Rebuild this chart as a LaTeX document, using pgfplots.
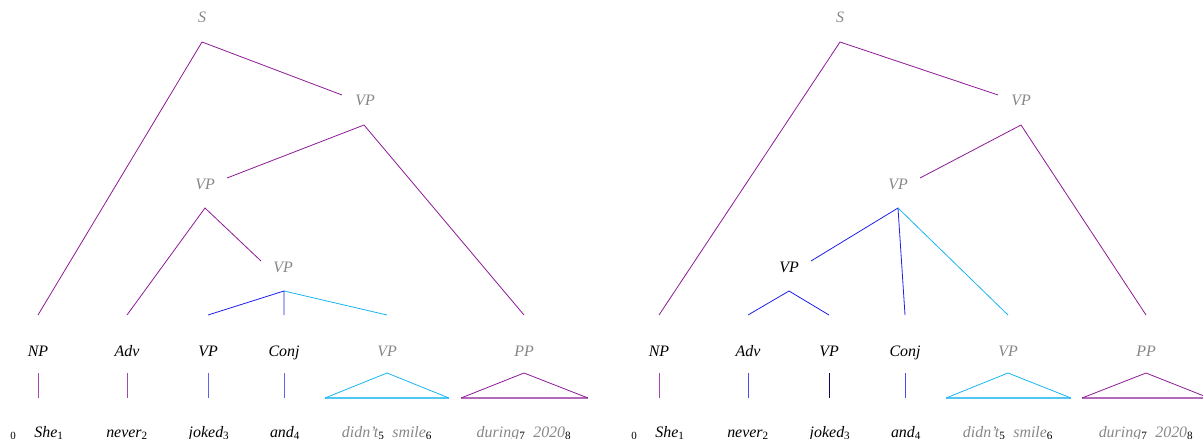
\documentclass[border=0pt]{standalone}
\usepackage{fontspec}
\setmainfont{Liberation Serif}
\usepackage{pgfplots}
\pgfplotsset{compat=1.18}

\definecolor{tpurple}{RGB}{140,25,150}
\definecolor{tblue}{RGB}{30,30,235}
\definecolor{tlight}{RGB}{25,180,240}
\definecolor{tgray}{RGB}{135,135,135}

\newcommand{\sub}[1]{\textsubscript{\upshape\color{black}#1}}

\begin{document}
\begin{tikzpicture}
\begin{axis}[
  anchor=south west, at={(0,0)},
  scale only axis, width=1203bp, height=439bp,
  xmin=0, xmax=1203, ymin=0, ymax=439,
  y dir=reverse, hide axis, clip=false,
  every axis plot/.append style={line width=0.8pt, mark=none},
  nodes={font=\fontsize{16}{19}\selectfont\itshape, inner sep=0pt},
  ]
  % ---------- left tree ----------
  \addplot[tpurple] coordinates {(38,315) (202,42) (342,95)};
  \addplot[tpurple] coordinates {(227,178) (364,125) (524,315)};
  \addplot[tpurple] coordinates {(127,315) (205,208) (261,261)};
  \addplot[tblue] coordinates {(208,315) (284,291) (284,315)};
  \addplot[tlight] coordinates {(284,291) (387,315)};
  % leaves
  \addplot[tpurple!80] coordinates {(38,373) (38,398)};
  \addplot[tpurple!80] coordinates {(127,373) (127,398)};
  \addplot[tblue!70] coordinates {(208,373) (208,398)};
  \addplot[tblue!70] coordinates {(284,373) (284,398)};
  \addplot[tlight!75, line width=1.8pt] coordinates {(325,398) (449,398)};
  \addplot[tlight] coordinates {(325,398) (387,373) (449,398)};
  \addplot[tpurple!65, line width=1.8pt] coordinates {(461,398) (588,398)};
  \addplot[tpurple] coordinates {(461,398) (524,373) (588,398)};

  \node[anchor=base, text=tgray] at (axis cs:202,23) {S};
  \node[anchor=base, text=tgray] at (axis cs:365,106) {VP};
  \node[anchor=base, text=tgray] at (axis cs:205,189) {VP};
  \node[anchor=base, text=tgray] at (axis cs:283,272) {VP};
  \node[anchor=base] at (axis cs:38,356) {NP};
  \node[anchor=base] at (axis cs:127,356) {Adv};
  \node[anchor=base] at (axis cs:208,356) {VP};
  \node[anchor=base] at (axis cs:284,356) {Conj};
  \node[anchor=base, text=tgray] at (axis cs:387,356) {VP};
  \node[anchor=base, text=tgray] at (axis cs:524,356) {PP};

  \node[anchor=base, font=\fontsize{11}{13}\selectfont] at (axis cs:13,439) {0};
  \node[anchor=base] at (axis cs:49,437) {She\sub{1}};
  \node[anchor=base] at (axis cs:127,437) {never\sub{2}};
  \node[anchor=base] at (axis cs:209,437) {joked\sub{3}};
  \node[anchor=base] at (axis cs:285,437) {and\sub{4}};
  \node[anchor=base, text=tgray] at (axis cs:387,437) {didn't\sub{5}\enspace smile\sub{6}};
  \node[anchor=base, text=tgray] at (axis cs:524,437) {during\sub{7}\enspace 2020\sub{8}};

  % ---------- right tree ----------
  \addplot[tpurple] coordinates {(659,315) (840,42) (998,95)};
  \addplot[tpurple] coordinates {(920,178) (1021,125) (1146,315)};
  \addplot[tblue] coordinates {(811,261) (898,208) (905,315)};
  \addplot[tlight] coordinates {(898,208) (1008,315)};
  \addplot[tblue] coordinates {(748,315) (789,291) (829,315)};
  % leaves
  \addplot[tpurple!80] coordinates {(659,373) (659,398)};
  \addplot[tblue!80] coordinates {(748,373) (748,398)};
  \addplot[black!40!tblue!60!black] coordinates {(829,373) (829,398)};
  \addplot[tblue!80] coordinates {(905,373) (905,398)};
  \addplot[tlight!75, line width=1.8pt] coordinates {(946,398) (1071,398)};
  \addplot[tlight] coordinates {(946,398) (1008,373) (1071,398)};
  \addplot[tpurple!65, line width=1.8pt] coordinates {(1082,398) (1209,398)};
  \addplot[tpurple] coordinates {(1082,398) (1146,373) (1209,398)};

  \node[anchor=base, text=tgray] at (axis cs:840,23) {S};
  \node[anchor=base, text=tgray] at (axis cs:1021,106) {VP};
  \node[anchor=base, text=tgray] at (axis cs:898,189) {VP};
  \node[anchor=base] at (axis cs:789,272) {VP};
  \node[anchor=base] at (axis cs:659,356) {NP};
  \node[anchor=base] at (axis cs:748,356) {Adv};
  \node[anchor=base] at (axis cs:829,356) {VP};
  \node[anchor=base] at (axis cs:905,356) {Conj};
  \node[anchor=base, text=tgray] at (axis cs:1008,356) {VP};
  \node[anchor=base, text=tgray] at (axis cs:1146,356) {PP};

  \node[anchor=base, font=\fontsize{11}{13}\selectfont] at (axis cs:634,439) {0};
  \node[anchor=base] at (axis cs:670,437) {She\sub{1}};
  \node[anchor=base] at (axis cs:748,437) {never\sub{2}};
  \node[anchor=base] at (axis cs:830,437) {joked\sub{3}};
  \node[anchor=base] at (axis cs:906,437) {and\sub{4}};
  \node[anchor=base, text=tgray] at (axis cs:1008,437) {didn't\sub{5}\enspace smile\sub{6}};
  \node[anchor=base, text=tgray] at (axis cs:1146,437) {during\sub{7}\enspace 2020\sub{8}};
\end{axis}
\pgfresetboundingbox
\path[use as bounding box] (0,0) rectangle (1203bp,439bp);
\end{tikzpicture}
\end{document}
